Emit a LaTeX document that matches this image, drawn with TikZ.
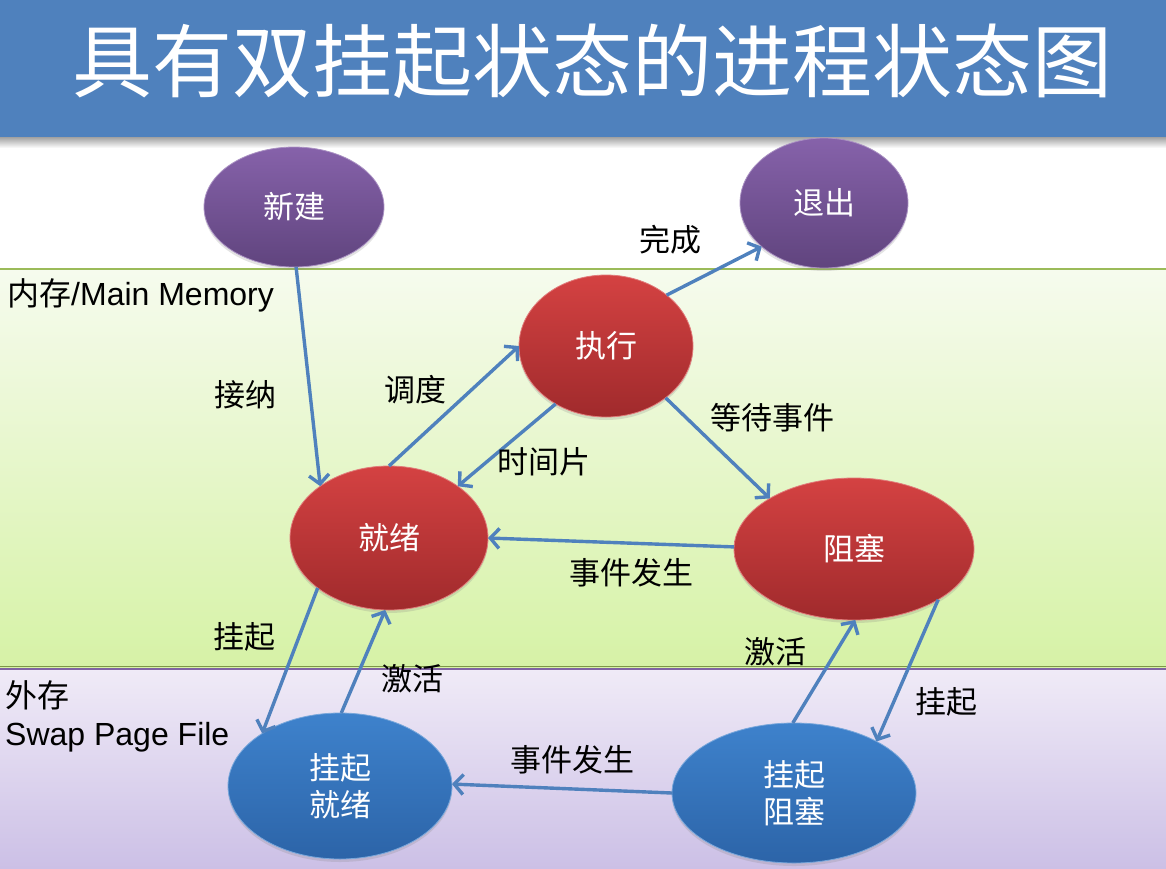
\documentclass[tikz,border=0pt]{standalone}
\usepackage{fontspec}
\setmainfont{Liberation Sans}
\newfontfamily\cjk{Noto Sans CJK SC}
\usetikzlibrary{shapes.geometric,arrows.meta,shadows}

\definecolor{titleblue}{RGB}{79,129,189}
\definecolor{arrowblue}{RGB}{79,129,189}
\definecolor{greentop}{RGB}{246,251,238}
\definecolor{greenbot}{RGB}{214,242,166}
\definecolor{greenline}{RGB}{155,187,89}
\definecolor{purptop}{RGB}{240,235,247}
\definecolor{purpbot}{RGB}{204,192,230}
\definecolor{purpline}{RGB}{128,100,162}
\definecolor{redtop}{RGB}{212,66,66}
\definecolor{redbot}{RGB}{160,42,44}
\definecolor{viotop}{RGB}{134,98,170}
\definecolor{viobot}{RGB}{96,68,126}
\definecolor{bluetop}{RGB}{62,130,204}
\definecolor{bluebot}{RGB}{44,100,168}

\tikzset{
  st/.style={ellipse, inner sep=0pt, outer sep=0pt, align=center, text=white,
    font=\cjk\fontsize{31}{37}\selectfont,
    drop shadow={opacity=0.22, shadow xshift=0pt, shadow yshift=-3pt}},
  redst/.style={st, top color=redtop, bottom color=redbot, draw=redtop!70!white, line width=0.8pt},
  viost/.style={st, top color=viotop, bottom color=viobot, draw=viotop!70!white, line width=0.8pt},
  bluest/.style={st, top color=bluetop, bottom color=bluebot, draw=bluetop!70!white, line width=0.8pt},
  conn/.style={draw=arrowblue, line width=3.4pt, -{Straight Barb[length=9pt, width=20pt]}},
  lab/.style={font=\cjk\fontsize{31}{37}\selectfont, text=black, inner sep=0pt},
  zone/.style={font=\fontsize{32}{40}\selectfont, text=black, inner sep=0pt, align=left, anchor=north west}
}

\begin{document}
\begin{tikzpicture}[x=1pt, y=-1pt]
\useasboundingbox (0,0) rectangle (1166,868);

% background bands
\fill[white] (0,0) rectangle (1166,268);
\fill[top color=greentop, bottom color=greenbot] (0,268) rectangle (1166,668);
\fill[top color=purptop, bottom color=purpbot] (0,668) rectangle (1166,868);
\draw[greenline, line width=2pt] (0,269) -- (1166,269);
\draw[greenline!80!black, line width=1.5pt] (0,666.5) -- (1166,666.5);
\draw[purpline, line width=1.5pt] (0,669) -- (1166,669);

% title band with its shadow
\fill[top color=black!40, bottom color=white] (0,136) rectangle (1166,148);
\fill[titleblue] (0,0) rectangle (1166,137);
\node[font=\cjk\fontsize{80}{90}\selectfont, text=white] (title) at (592,61) {具有双挂起状态的进程状态图};

% zone captions
\node[zone] (mainmem) at (7,278) {{\cjk 内存}/Main Memory};
\node[zone] (swap) at (5,680) {{\cjk 外存}\\[-2pt]Swap Page File};

% states
\node[viost, minimum width=180pt, minimum height=120pt] (new) at (294,207) {新建};
\node[viost, minimum width=168pt, minimum height=130pt] (exit) at (824,203) {退出};
\node[redst, minimum width=174pt, minimum height=142pt] (run) at (606,346) {执行};
\node[redst, minimum width=198pt, minimum height=144pt] (ready) at (389,538) {就绪};
\node[redst, minimum width=240pt, minimum height=142pt] (blocked) at (854,549) {阻塞};
\node[bluest, minimum width=224pt, minimum height=146pt] (sready) at (340,786) {挂起\\就绪};
\node[bluest, minimum width=244pt, minimum height=140pt] (sblocked) at (794,793) {挂起\\阻塞};

% transitions
\draw[conn] (new.-88) -- (ready.143);
\draw[conn] (ready.90) -- (run.180);
\draw[conn] (run.-131) -- (ready.37);
\draw[conn] (run.40) -- (exit.-145);
\draw[conn] (run.-41) -- (blocked.149);
\draw[conn] (blocked.179) -- (ready.0);
\draw[conn] (ready.-145) -- (sready.146);
\draw[conn] (sready.89) -- (ready.-93);
\draw[conn] (sblocked.91) -- (blocked.-89);
\draw[conn] (blocked.-31) -- (sblocked.32);
\draw[conn] (sblocked.180) -- (sready.1);

% transition captions
\node[lab] (accept) at (245,395) {接纳};
\node[lab] (dispatch) at (415,390) {调度};
\node[lab] (timeout) at (544,462) {时间片};
\node[lab] (release) at (670,240) {完成};
\node[lab] (wait) at (772,418) {等待事件};
\node[lab] (occur) at (631,573) {事件发生};
\node[lab] (suspend1) at (244,637) {挂起};
\node[lab] (activate1) at (412,679) {激活};
\node[lab] (activate2) at (775,652) {激活};
\node[lab] (suspend2) at (946,702) {挂起};
\node[lab] (occur2) at (572,760) {事件发生};
\end{tikzpicture}
\end{document}
